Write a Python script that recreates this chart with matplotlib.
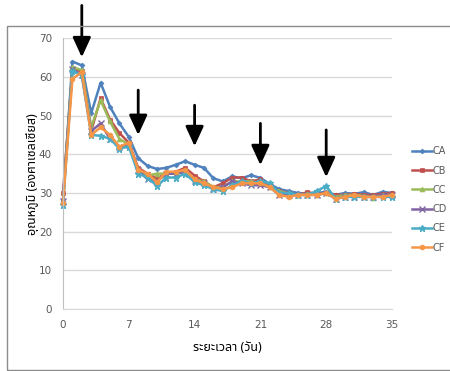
import numpy as np
import matplotlib
matplotlib.use("Agg")
import matplotlib.pyplot as plt
from matplotlib.patches import Rectangle

# Data (temperature readings per day)
days = list(range(36))
series_names = ["CA", "CB", "CC", "CD", "CE", "CF"]

CA = [28, 64, 63, 50.6, 58.5, 52.3, 48, 44.5, 39, 37, 36.2, 36.5, 37.3, 38.2, 37.3, 36.5,
      33.8, 33, 34.3, 33.8, 34.6, 33.9, 32.3, 31, 30.5, 30, 29.8, 30, 30.3, 29.5, 30, 29.8,
      30.2, 29.5, 30.3, 30]
CB = [30, 62, 61.5, 46, 54.5, 49, 45.5, 43, 36.5, 35, 33.8, 35, 35.5, 36.5, 34.5, 33,
      31.5, 32.5, 34, 34, 33, 33.5, 31.5, 30.5, 30, 29.5, 30.2, 29.8, 30, 29.5, 29.5, 29.8,
      29.5, 29.5, 29.8, 30]
CC = [28, 62.5, 61.8, 47, 54, 48.5, 44, 42.5, 36, 34.5, 35, 35, 35, 35.5, 33.5, 33,
      31.5, 31.5, 33, 33, 33, 32.5, 31.5, 30.5, 29.8, 29.5, 29.8, 29.5, 30, 29, 29.5, 29.5,
      29.3, 28.8, 29.5, 29.5]
CD = [28, 62, 60.5, 46, 48, 44, 42, 42.5, 36, 33.5, 33, 35, 35, 35.5, 33, 32.5,
      31, 31.5, 33, 32.5, 32, 32, 31.5, 29.5, 29.5, 29.5, 29.5, 29.5, 30, 28.5, 29, 29,
      29, 29, 29.5, 29.5]
CE = [27, 61.5, 60.5, 45, 44.8, 44, 41.5, 42, 35, 34, 31.8, 34, 34, 35, 32.8, 32,
      31, 30.5, 32, 33, 32.5, 33, 32.5, 30, 30, 29.5, 29.5, 30.5, 31.8, 28.5, 29, 29,
      29, 29, 29, 29]
CF = [27.5, 59.5, 61.3, 45, 47, 45, 42, 43, 36, 35, 32.8, 35.5, 35.5, 36, 33.5, 32.5,
      31.5, 31, 31.5, 32.5, 32.5, 32.5, 31.5, 29.5, 29, 29.5, 29.5, 29.5, 30, 28.5, 29, 29.5,
      29, 29, 29, 29.5]

# arrows: day, start temp, tip temp
arrow_days = [2, 8, 14, 21, 28]
arrow_start = [78.5, 56.6, 52.7, 48, 46.3]
arrow_tip = [65.1, 45, 42.1, 37.2, 34.1]

colors = ["#4F81BD", "#C0504D", "#9BBB59", "#8064A2", "#4BACC6", "#F79646"]
markers = ["D", "s", "^", "x", "*", "o"]
msizes = [2.5, 3.5, 3.5, 4, 4.5, 3.5]

fig = plt.figure(figsize=(4.5, 3.71), dpi=100)
ax = fig.add_axes([63/450, 1 - 309/371, (392-63)/450, (309-38.3)/371])

# outer chart border (excel style)
fig.patches.append(Rectangle((6.5/450, 0.003), 1.2, (371-25.5)/371 - 0.003,
                             transform=fig.transFigure, fill=False,
                             edgecolor="#8c8c8c", linewidth=1.0))

for name, vals, c, m, ms in zip(series_names, [CA, CB, CC, CD, CE, CF], colors, markers, msizes):
    ax.plot(days, vals, color=c, marker=m, markersize=ms, linewidth=1.8, label=name,
            markeredgewidth=1.0 if m in ("x", "*") else 0.5, clip_on=False)

for d, s, t in zip(arrow_days, arrow_start, arrow_tip):
    ax.annotate("", xy=(d, t), xytext=(d, s), annotation_clip=False,
                arrowprops=dict(arrowstyle="-|>,head_width=0.55,head_length=1.2",
                                color="black", lw=2.0, shrinkA=0, shrinkB=0))

ax.set_xlim(0, 35)
ax.set_ylim(0, 70)
ax.set_xticks([0, 7, 14, 21, 28, 35])
ax.set_yticks(range(0, 71, 10))
ax.grid(axis="y", color="#d9d9d9", linewidth=1.0)
ax.set_axisbelow(True)
for sp in ["top", "right"]:
    ax.spines[sp].set_visible(False)
ax.spines["left"].set_color("#bfbfbf")
ax.spines["bottom"].set_color("#d9d9d9")
ax.tick_params(axis="both", length=0, labelsize=7.5, colors="#595959", pad=8)

thai = ["Noto Sans Thai", "Tahoma", "DejaVu Sans"]
ax.set_xlabel("ระยะเวลา (วัน)", fontsize=9, fontweight="bold", family=thai, labelpad=8)
ax.set_ylabel("อุณหภูมิ (องศาเซลเซียส)", fontsize=9, fontweight="bold", family=thai, labelpad=0)

leg = ax.legend(loc="upper left", bbox_to_anchor=(1.05, 0.615), frameon=False,
                fontsize=7, handlelength=2.0, labelspacing=0.95, handletextpad=0.1,
                borderaxespad=0)
for t in leg.get_texts():
    t.set_color("#595959")

fig.savefig("out.png", dpi=100)
